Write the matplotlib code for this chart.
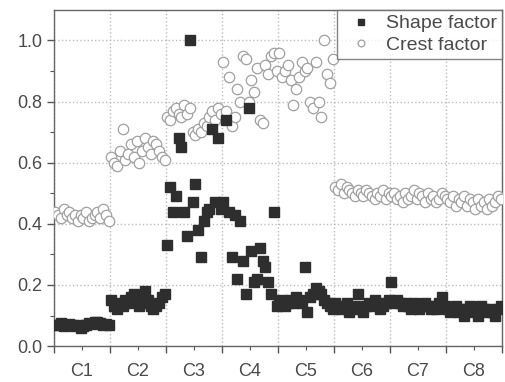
import matplotlib
matplotlib.use("Agg")
import matplotlib.pyplot as plt
import numpy as np

plt.rcParams['font.family'] = ['Liberation Sans', 'DejaVu Sans']

classes = ["C1", "C2", "C3", "C4", "C5", "C6", "C7", "C8"]

# 20 samples per class
shape_factor = [
    # C1
    0.07, 0.07, 0.075, 0.065, 0.07, 0.072, 0.068, 0.065, 0.07, 0.06,
    0.065, 0.07, 0.075, 0.072, 0.078, 0.08, 0.075, 0.07, 0.072, 0.068,
    # C2
    0.15, 0.13, 0.12, 0.14, 0.13, 0.15, 0.14, 0.16, 0.17, 0.15,
    0.13, 0.14, 0.18, 0.15, 0.13, 0.12, 0.13, 0.14, 0.16, 0.17,
    # C3
    0.33, 0.52, 0.44, 0.49, 0.68, 0.65, 0.44, 0.36, 1.00, 0.47,
    0.53, 0.38, 0.29, 0.41, 0.44, 0.45, 0.71, 0.47, 0.68, 0.45,
    # C4
    0.47, 0.74, 0.44, 0.29, 0.43, 0.22, 0.41, 0.28, 0.17, 0.78,
    0.31, 0.21, 0.22, 0.32, 0.28, 0.26, 0.21, 0.17, 0.44, 0.13,
    # C5
    0.14, 0.15, 0.13, 0.14, 0.15, 0.14, 0.16, 0.15, 0.14, 0.26,
    0.11, 0.16, 0.17, 0.19, 0.18, 0.17, 0.15, 0.14, 0.13, 0.12,
    # C6
    0.14, 0.13, 0.12, 0.13, 0.14, 0.11, 0.12, 0.13, 0.17, 0.12,
    0.11, 0.13, 0.14, 0.13, 0.15, 0.14, 0.12, 0.13, 0.14, 0.15,
    # C7
    0.21, 0.14, 0.15, 0.14, 0.13, 0.14, 0.13, 0.12, 0.14, 0.13,
    0.12, 0.13, 0.14, 0.13, 0.12, 0.13, 0.12, 0.14, 0.16, 0.13,
    # C8
    0.12, 0.11, 0.12, 0.13, 0.11, 0.12, 0.10, 0.12, 0.13, 0.11,
    0.12, 0.10, 0.13, 0.12, 0.11, 0.12, 0.11, 0.10, 0.12, 0.13,
]

crest_factor = [
    # C1
    0.44, 0.43, 0.42, 0.45, 0.43, 0.44, 0.42, 0.43, 0.41, 0.43,
    0.42, 0.44, 0.41, 0.42, 0.43, 0.44, 0.42, 0.45, 0.43, 0.41,
    # C2
    0.62, 0.60, 0.59, 0.64, 0.71, 0.61, 0.63, 0.66, 0.62, 0.67,
    0.60, 0.64, 0.68, 0.65, 0.63, 0.67, 0.66, 0.64, 0.62, 0.61,
    # C3
    0.75, 0.74, 0.77, 0.78, 0.76, 0.75, 0.79, 0.76, 0.78, 0.70,
    0.69, 0.71, 0.70, 0.73, 0.72, 0.75, 0.77, 0.74, 0.78, 0.76,
    # C4
    0.93, 0.77, 0.88, 0.72, 0.75, 0.84, 0.80, 0.95, 0.94, 0.80,
    0.87, 0.83, 0.91, 0.74, 0.73, 0.92, 0.89, 0.95, 0.96, 0.90,
    # C5
    0.96, 0.88, 0.90, 0.92, 0.87, 0.79, 0.84, 0.88, 0.93, 0.90,
    0.91, 0.80, 0.78, 0.93, 0.80, 0.75, 1.00, 0.89, 0.86, 0.94,
    # C6
    0.52, 0.51, 0.53, 0.50, 0.52, 0.51, 0.50, 0.49, 0.51, 0.50,
    0.49, 0.51, 0.50, 0.49, 0.48, 0.50, 0.49, 0.51, 0.48, 0.50,
    # C7
    0.49, 0.50, 0.48, 0.49, 0.47, 0.50, 0.48, 0.49, 0.51, 0.48,
    0.50, 0.49, 0.47, 0.50, 0.48, 0.49, 0.47, 0.48, 0.50, 0.49,
    # C8
    0.48, 0.47, 0.49, 0.46, 0.48, 0.47, 0.49, 0.46, 0.48, 0.47,
    0.45, 0.48, 0.46, 0.47, 0.45, 0.48, 0.46, 0.47, 0.49, 0.48,
]

n_per = 20
x = np.array([k + (i + 0.5) / n_per for k in range(len(classes)) for i in range(n_per)])

fig = plt.figure(figsize=(5.05, 3.82), dpi=100)
ax = fig.add_axes([0.107, 0.094, 0.887, 0.880])

ax.plot(x, crest_factor, 'o', ms=7.5, mfc='white', mec='#a0a0a0', mew=0.9,
        label='Crest factor', zorder=3)
ax.plot(x, shape_factor, 's', ms=7, mfc='#2e2e2e', mec='#2e2e2e',
        label='Shape factor', zorder=4)

ax.set_xlim(0, 8)
ax.set_ylim(0, 1.1)
ax.set_xticks(np.arange(0, 9))
ax.set_xticklabels([])
ax.set_xticks(np.arange(8) + 0.5, minor=True)
ax.set_xticklabels(classes, minor=True)
ax.set_yticks([0.0, 0.2, 0.4, 0.6, 0.8, 1.0])
ax.set_yticks(np.arange(0.1, 1.1, 0.2), minor=True)
ax.yaxis.set_major_formatter(matplotlib.ticker.FormatStrFormatter('%.1f'))

ax.tick_params(which='both', direction='out', colors='#555555',
               labelcolor='#4a4a4a', labelsize=13)
ax.tick_params(which='major', length=5, width=1)
ax.tick_params(which='minor', length=3, width=0.8)
ax.tick_params(axis='x', which='minor', pad=9)

ax.grid(True, which='major', linestyle=':', color='#bbbbbb', linewidth=1)
for s in ax.spines.values():
    s.set_color('#666666')
    s.set_linewidth(1)

h, l = ax.get_legend_handles_labels()
leg = ax.legend(h[::-1], l[::-1], loc='upper right', fontsize=14,
                frameon=True, fancybox=False, edgecolor='#666666',
                borderaxespad=0, handletextpad=0.3, markerscale=0.65,
                handlelength=2.0, labelcolor='#4a4a4a', borderpad=0.25,
                labelspacing=0.2)
leg.get_frame().set_linewidth(1)

fig.savefig('out.png', dpi=100)
